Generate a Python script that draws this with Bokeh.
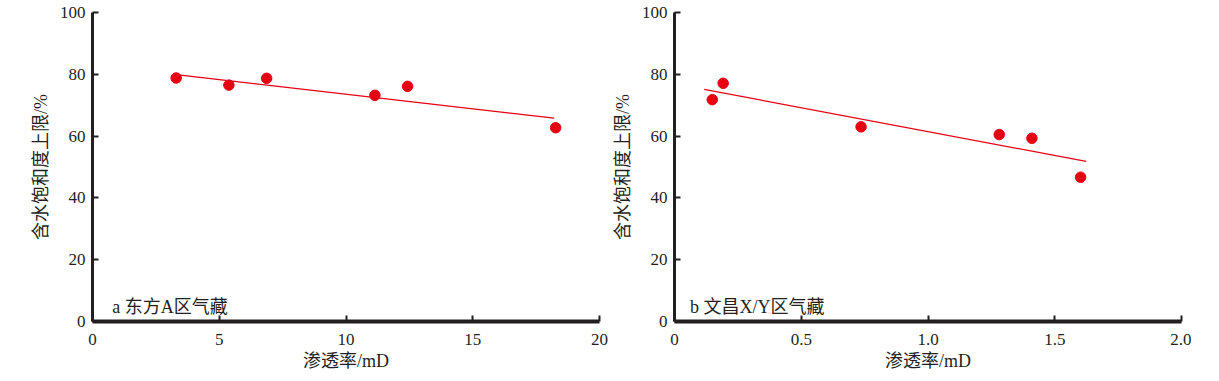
from bokeh.plotting import figure
from bokeh.layouts import row
from bokeh.models import Range1d, FixedTicker, Label
from bokeh.embed import file_html
from bokeh.resources import INLINE

# ---- data ----
perm_a = [3.30, 5.38, 6.87, 11.14, 12.43, 18.27]
sw_a = [78.8, 76.5, 78.7, 73.2, 76.1, 62.7]
fit_a_x = [3.30, 18.21]
fit_a_y = [79.9, 65.8]

perm_b = [0.149, 0.192, 0.736, 1.281, 1.410, 1.602]
sw_b = [71.8, 77.1, 63.0, 60.5, 59.3, 46.7]
fit_b_x = [0.117, 1.624]
fit_b_y = [75.1, 51.8]

xticks_a = [0, 5, 10, 15, 20]
xticks_b = [0, 0.5, 1.0, 1.5, 2.0]
xlabels_b = {0: "0", 0.5: "0.5", 1: "1.0", 1.5: "1.5", 2: "2.0"}
yticks = [0, 20, 40, 60, 80, 100]

xlabel = "渗透率/mD"
ylabel = "含水饱和度上限/%"
title_a = "a 东方A区气藏"
title_b = "b 文昌X/Y区气藏"

RED = "#e60012"
INK = "#231f20"
SERIF = "'Liberation Serif', 'Noto Sans CJK SC'"


def make(xs, ys, fx, fy, xr, xticks, overrides, tag, tag_x, bl, br):
    p = figure(output_backend="svg", toolbar_location=None,
               frame_width=507, frame_height=309,
               min_border_left=bl, min_border_right=br,
               min_border_top=12, min_border_bottom=50,
               x_range=Range1d(*xr), y_range=Range1d(0, 100))
    p.outline_line_color = None
    p.grid.visible = False
    p.background_fill_color = "white"
    p.border_fill_color = "white"

    p.line(fx, fy, line_color=RED, line_width=1.2)
    p.scatter(xs, ys, size=10.5, fill_color=RED, line_color=RED)

    for ax in (p.xaxis[0], p.yaxis[0]):
        ax.axis_line_color = INK
        ax.major_tick_line_color = INK
        ax.major_tick_in = 6
        ax.major_tick_out = 0
        ax.major_tick_line_width = 2
        ax.minor_tick_line_color = None
        ax.major_label_text_font = "Liberation Serif"
        ax.major_label_text_font_size = "17px"
        ax.major_label_text_color = INK
        ax.axis_label_text_font = SERIF
        ax.axis_label_text_font_size = "18px"
        ax.axis_label_text_font_style = "normal"
        ax.axis_label_text_color = INK

    p.xaxis.ticker = FixedTicker(ticks=xticks)
    p.yaxis.ticker = FixedTicker(ticks=yticks)
    if overrides:
        p.xaxis.major_label_overrides = overrides
    p.xaxis.axis_line_width = 4
    p.yaxis.axis_line_width = 3
    p.xaxis.major_label_standoff = 12
    p.yaxis.major_label_standoff = 7
    p.xaxis.axis_label_standoff = 3
    p.yaxis.axis_label_standoff = 6
    p.xaxis.axis_label = xlabel
    p.yaxis.axis_label = ylabel

    p.add_layout(Label(x=tag_x, y=4.8, text=tag, text_font=SERIF,
                       text_font_size="18px", text_color=INK,
                       text_baseline="alphabetic", text_align="left"))
    return p


pa = make(perm_a, sw_a, fit_a_x, fit_a_y, (0, 20), xticks_a, None,
          title_a, 0.78, 92, 10)
pb = make(perm_b, sw_b, fit_b_x, fit_b_y, (0, 2), xticks_b, xlabels_b,
          title_b, 0.061, 63, 10)

layout = row(pa, pb)
open("out.html", "w").write(file_html(layout, INLINE))
